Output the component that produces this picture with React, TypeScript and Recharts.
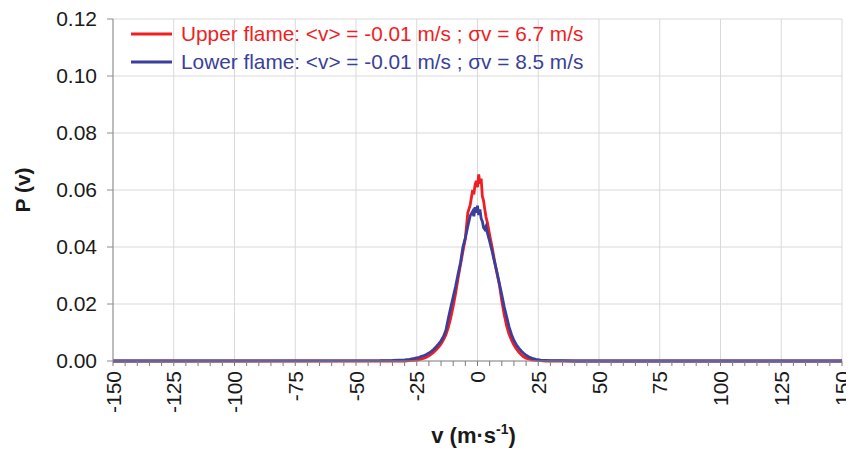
import React from 'react';
import { LineChart, Line, XAxis, YAxis, CartesianGrid, Legend } from 'recharts';

const velocity = [
  -150, -40, -35, -30, -28, -26, -25, -24, -23, -22, -21, -20, -19, -18, -17, -16, -15, -14, -13, -12,
  -11, -10, -9, -8, -7, -6, -5, -4, -3, -2, -1.5, -1, -0.5, 0, 0.5, 1, 1.5, 2, 2.5, 3, 3.5, 4,
  5, 6, 7, 8, 9, 10, 11, 12, 13, 14, 15, 16, 17, 18, 19, 20, 21, 22, 23, 24, 26, 28, 30, 35, 40, 150,
];

const upperFlame = [
  0, 0, 0, 0, 0.0001, 0.0002, 0.0003, 0.0005, 0.0007, 0.001, 0.0013, 0.0018, 0.0024, 0.0031, 0.0039, 0.0049, 0.006, 0.0074, 0.0092, 0.0118,
  0.0152, 0.0192, 0.0238, 0.029, 0.0338, 0.0385, 0.043, 0.052, 0.0548, 0.06, 0.0585, 0.0618, 0.0632, 0.061, 0.0655, 0.0622, 0.064, 0.0578, 0.0562, 0.0532, 0.0505, 0.0488,
  0.0442, 0.04, 0.0352, 0.0308, 0.0268, 0.021, 0.0162, 0.0122, 0.0094, 0.0073, 0.0056, 0.0042, 0.0031, 0.0022, 0.0015, 0.001, 0.0007, 0.0005, 0.0003, 0.0002, 0.0001, 0, 0, 0, 0, 0,
];

const lowerFlame = [
  0, 0.0001, 0.0002, 0.0004, 0.0006, 0.0009, 0.0011, 0.0013, 0.0016, 0.0019, 0.0023, 0.0028, 0.0034, 0.0041, 0.005, 0.006, 0.0071, 0.0086, 0.0108, 0.015,
  0.0188, 0.0225, 0.0262, 0.0305, 0.0345, 0.04, 0.0432, 0.0472, 0.051, 0.0525, 0.0508, 0.054, 0.052, 0.0545, 0.0512, 0.0532, 0.05, 0.049, 0.0468, 0.0462, 0.0472, 0.0452,
  0.042, 0.0385, 0.0348, 0.0312, 0.0272, 0.0232, 0.019, 0.0155, 0.012, 0.0093, 0.0072, 0.0057, 0.0045, 0.0035, 0.0027, 0.002, 0.0015, 0.0011, 0.0008, 0.0006, 0.0003, 0.0002, 0.0001, 0.0001, 0, 0,
];

const xMajorTicks = [-150, -125, -100, -75, -50, -25, 0, 25, 50, 75, 100, 125, 150];
const xMinorTicks = [
  -150, -145, -140, -135, -130, -125, -120, -115, -110, -105, -100, -95, -90, -85, -80, -75, -70, -65, -60, -55,
  -50, -45, -40, -35, -30, -25, -20, -15, -10, -5, 0, 5, 10, 15, 20, 25, 30, 35, 40, 45, 50, 55, 60, 65, 70, 75,
  80, 85, 90, 95, 100, 105, 110, 115, 120, 125, 130, 135, 140, 145, 150,
];
const yTicks = [0, 0.02, 0.04, 0.06, 0.08, 0.1, 0.12];

const upperLabel = 'Upper flame: <v> = -0.01 m/s ; σv = 6.7 m/s';
const lowerLabel = 'Lower flame: <v> = -0.01 m/s ; σv = 8.5 m/s';
const legendOrder = ['upper', 'lower'];

const RED = '#f01e23';
const BLUE = '#3a3f9b';
const FONT = '"Liberation Sans", Arial, sans-serif';
const AXIS = '#8c8c8c';

const data = velocity.map((v, i) => ({ v, upper: upperFlame[i], lower: lowerFlame[i] }));

const XTick = (props: any) => {
  const { x, y, payload } = props;
  if (payload.value % 25 !== 0) return <g />;
  return (
    <text
      x={x}
      y={y}
      transform={`rotate(-90 ${x} ${y})`}
      textAnchor="end"
      dominantBaseline="central"
      fontSize={21}
      fontFamily={FONT}
      fill="#1a1a1a"
    >
      {payload.value}
    </text>
  );
};

const XTitle = (props: any) => {
  const vb = props.viewBox;
  const cx = vb.x + vb.width / 2 - 4;
  const y = vb.y + 82;
  return (
    <text x={cx} y={y} textAnchor="middle" fontSize={22} fontWeight="bold" fontFamily={FONT} fill="#1a1a1a">
      <tspan>v (m·s</tspan>
      <tspan dy={-9} fontSize={14}>-1</tspan>
      <tspan dy={9}>)</tspan>
    </text>
  );
};

const YTitle = (props: any) => {
  const vb = props.viewBox;
  const x = vb.x + 22;
  const y = vb.y + vb.height / 2;
  return (
    <text
      x={x}
      y={y}
      transform={`rotate(-90 ${x} ${y})`}
      textAnchor="middle"
      fontSize={21}
      fontWeight="bold"
      fontFamily={FONT}
      fill="#1a1a1a"
    >
      P (v)
    </text>
  );
};

const LegendContent = (props: any) => {
  const payload = [...(props.payload || [])].sort(
    (a: any, b: any) => legendOrder.indexOf(a.dataKey) - legendOrder.indexOf(b.dataKey),
  );
  return (
    <div style={{ fontFamily: FONT, fontSize: 20.8 }}>
      {payload.map((entry: any) => (
        <div key={entry.value} style={{ display: 'flex', alignItems: 'center', height: 28 }}>
          <svg width={41} height={6} style={{ marginRight: 9 }}>
            <line x1={0} y1={3} x2={41} y2={3} stroke={entry.color} strokeWidth={3} />
          </svg>
          <span style={{ color: entry.color, whiteSpace: 'nowrap' }}>{entry.value}</span>
        </div>
      ))}
    </div>
  );
};

export default function App() {
  return (
    <div style={{ marginTop: -1, borderTop: '1px solid #e2e2e2', width: 842 }}>
      <LineChart width={846} height={442} data={data} margin={{ top: 11, right: 12, bottom: 0, left: 0 }}>
        <CartesianGrid xAxisId="grid" stroke="#d9d9d9" strokeWidth={1} />
        <XAxis xAxisId="grid" dataKey="v" type="number" domain={[-150, 150]} ticks={xMajorTicks} hide />
        <XAxis
          dataKey="v"
          type="number"
          domain={[-150, 150]}
          ticks={xMinorTicks}
          interval={0}
          tick={<XTick />}
          tickSize={5}
          tickMargin={5}
          height={89}
          stroke={AXIS}
          tickLine={{ stroke: '#7a7a7a', strokeWidth: 1 }}
          label={<XTitle />}
        />
        <XAxis
          xAxisId="top"
          orientation="top"
          dataKey="v"
          type="number"
          domain={[-150, 150]}
          tick={false}
          tickLine={false}
          height={0}
          stroke="#a6a6a6"
          strokeWidth={2}
        />
        <YAxis
          type="number"
          domain={[0, 0.12]}
          ticks={yTicks}
          interval={0}
          tickFormatter={(v: number) => v.toFixed(2)}
          width={105}
          tickSize={6}
          tickMargin={10}
          stroke={AXIS}
          tick={{ fontSize: 21, fontFamily: FONT, fill: '#1a1a1a' }}
          label={<YTitle />}
        />
        <YAxis
          yAxisId="right"
          orientation="right"
          type="number"
          domain={[0, 0.12]}
          tick={false}
          tickLine={false}
          width={0}
          stroke="#a6a6a6"
          strokeWidth={2}
        />
        <Legend
          layout="horizontal"
          verticalAlign="middle"
          align="center"
          content={<LegendContent />}
          wrapperStyle={{ position: 'absolute', left: 123, top: 12, width: 480, height: 60 }}
        />
        <Line
          name={upperLabel}
          dataKey="upper"
          stroke={RED}
          strokeWidth={2.8}
          dot={false}
          type="linear"
          isAnimationActive={false}
        />
        <Line
          name={lowerLabel}
          dataKey="lower"
          stroke={BLUE}
          strokeWidth={2.8}
          dot={false}
          type="linear"
          isAnimationActive={false}
        />
      </LineChart>
    </div>
  );
}
